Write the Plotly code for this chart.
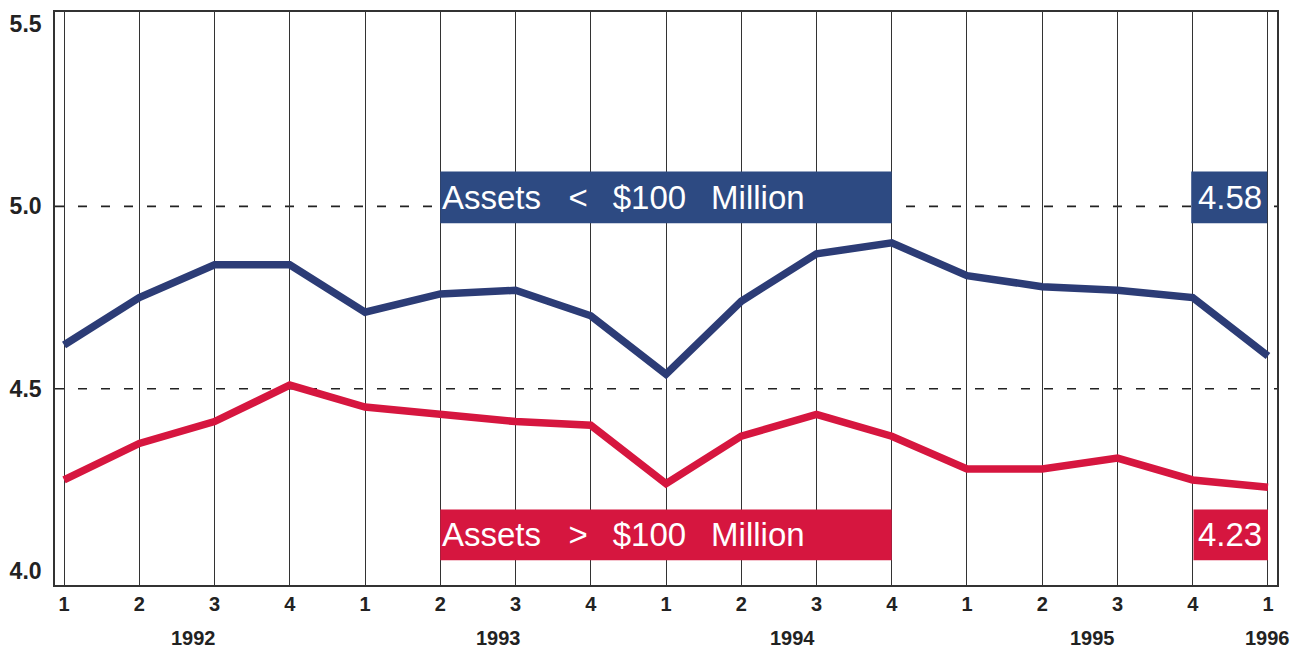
import plotly.graph_objects as go

quarters = list(range(17))
quarter_labels = ["1", "2", "3", "4", "1", "2", "3", "4", "1", "2", "3", "4", "1", "2", "3", "4", "1"]
small_banks = [4.62, 4.75, 4.84, 4.84, 4.71, 4.76, 4.77, 4.70, 4.54, 4.74, 4.87, 4.90, 4.81, 4.78, 4.77, 4.75, 4.59]
large_banks = [4.25, 4.35, 4.41, 4.51, 4.45, 4.43, 4.41, 4.40, 4.24, 4.37, 4.43, 4.37, 4.28, 4.28, 4.31, 4.25, 4.23]
year_labels = ["1992", "1993", "1994", "1995", "1996"]
year_pos = [1.72, 5.77, 9.68, 13.67, 16.0]
y_ticks = [4.0, 4.5, 5.0, 5.5]
end_labels = ["4.58", "4.23"]

BLUE_LINE = "#2c3c76"
BLUE_BOX = "#2d4a82"
RED = "#d6163f"
FONT = "Liberation Sans"

fig = go.Figure()
fig.add_trace(go.Scatter(x=quarters, y=small_banks, mode="lines",
                         line=dict(color=BLUE_LINE, width=7.5), showlegend=False, hoverinfo="skip"))
fig.add_trace(go.Scatter(x=quarters, y=large_banks, mode="lines",
                         line=dict(color=RED, width=7.5), showlegend=False, hoverinfo="skip"))

shapes = []
for yv in [5.0, 4.5]:
    shapes.append(dict(type="line", xref="paper", yref="y", x0=0, x1=1, y0=yv, y1=yv,
                       line=dict(color="#222", width=1.6, dash="9px,14px"), layer="below"))
# label boxes
shapes.append(dict(type="rect", xref="x", yref="y", x0=5, x1=11, y0=4.954, y1=5.096,
                   fillcolor=BLUE_BOX, line=dict(width=0), layer="above"))
shapes.append(dict(type="rect", xref="x", yref="y", x0=14.98, x1=15.99, y0=4.954, y1=5.096,
                   fillcolor=BLUE_BOX, line=dict(width=0), layer="above"))
shapes.append(dict(type="rect", xref="x", yref="y", x0=5, x1=11, y0=4.030, y1=4.169,
                   fillcolor=RED, line=dict(width=0), layer="above"))
shapes.append(dict(type="rect", xref="x", yref="y", x0=15.01, x1=16.0, y0=4.030, y1=4.169,
                   fillcolor=RED, line=dict(width=0), layer="above"))

nb = "\u00a0"
th = "\u2009"
annotations = [
    dict(x=5, y=5.025, xref="x", yref="y", xanchor="left", yanchor="middle", showarrow=False,
         text=f"Assets{nb*3}<{nb*2}{th}$100{nb*2}{th}Million",
         font=dict(family=FONT, size=33, color="white")),
    dict(x=15.49, y=5.025, xref="x", yref="y", xanchor="center", yanchor="middle", showarrow=False,
         text=end_labels[0], font=dict(family=FONT, size=33, color="white")),
    dict(x=5, y=4.0995, xref="x", yref="y", xanchor="left", yanchor="middle", showarrow=False,
         text=f"Assets{nb*3}>{nb*2}{th}$100{nb*2}{th}Million",
         font=dict(family=FONT, size=33, color="white")),
    dict(x=15.5, y=4.0995, xref="x", yref="y", xanchor="center", yanchor="middle", showarrow=False,
         text=end_labels[1], font=dict(family=FONT, size=33, color="white")),
]
for yl, xp in zip(year_labels, year_pos):
    annotations.append(dict(x=xp, y=-0.092, xref="x", yref="paper", xanchor="center", yanchor="middle",
                            showarrow=False, text=yl,
                            font=dict(family=FONT, size=20, color="#222", weight="bold")))

# page body has an 8px margin: the figure is offset by (8, 8) in the window
fig.update_layout(
    width=1298, height=644,
    margin=dict(l=46, r=29, t=2, b=67),
    paper_bgcolor="white", plot_bgcolor="white",
    shapes=shapes, annotations=annotations,
    xaxis=dict(range=[-0.12, 16.12], tickvals=quarters, ticktext=quarter_labels,
               showgrid=True, gridcolor="#333", gridwidth=1.4, zeroline=False,
               showline=True, linecolor="#333", linewidth=1.6, mirror=True, ticks="",
               tickfont=dict(family=FONT, size=20, color="#222", weight="bold")),
    yaxis=dict(range=[3.962, 5.533], tickvals=y_ticks, ticktext=[f"{v:.1f}" for v in y_ticks],
               showgrid=False, zeroline=False, showline=True, linecolor="#333", linewidth=1.6,
               mirror=True, ticks="", ticklabelstandoff=7,
               tickfont=dict(family=FONT, size=23, color="#222", weight="bold")),
)

fig.write_html("out.html")
